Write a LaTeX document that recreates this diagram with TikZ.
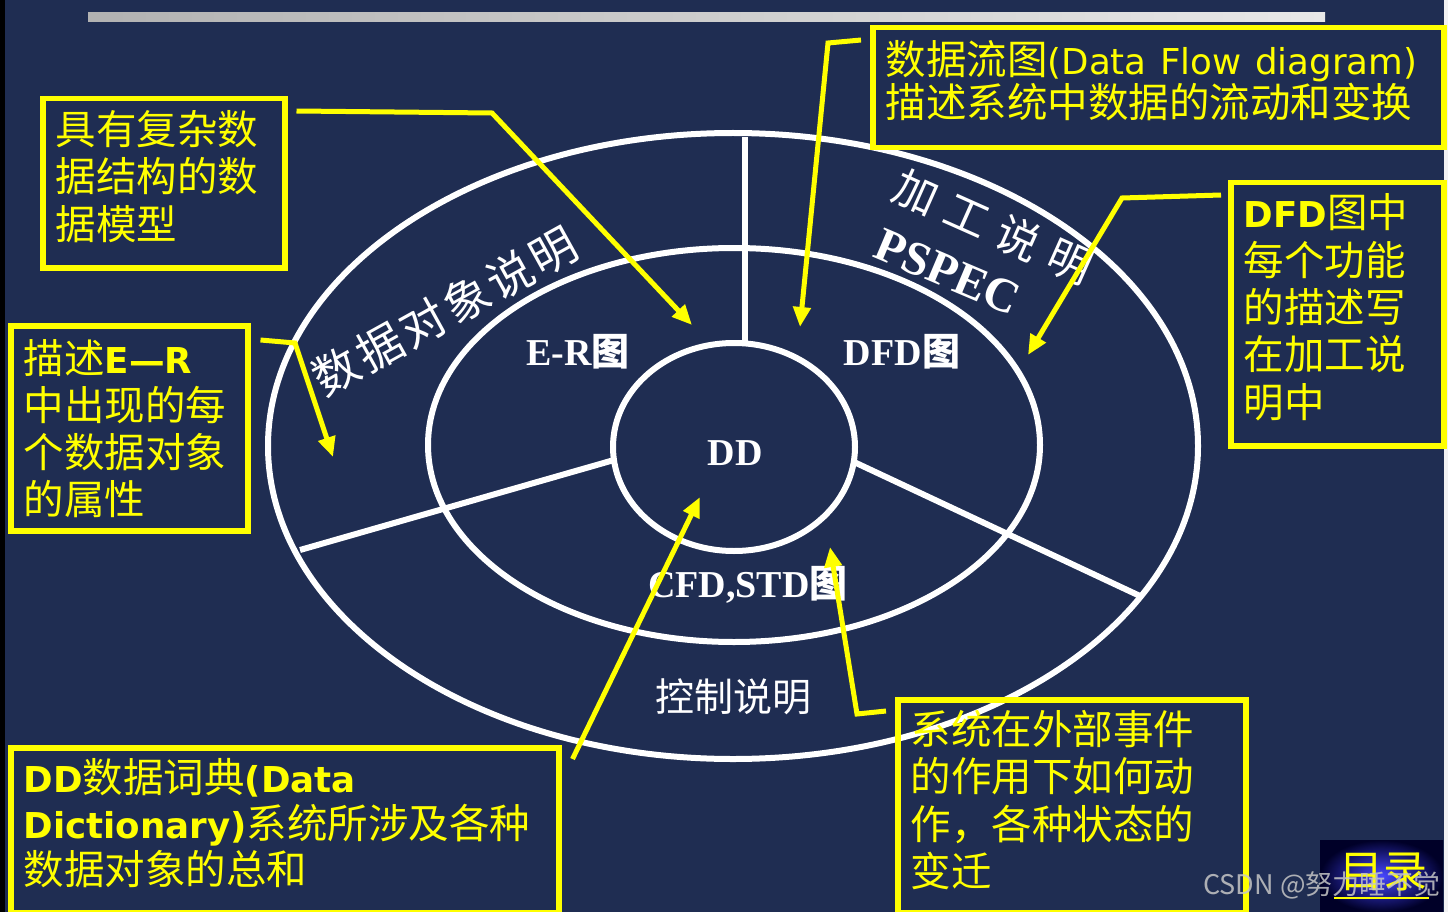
\documentclass[tikz,border=0pt]{standalone}
\usepackage{fontspec}
\setmainfont{Noto Sans CJK SC}
\newfontfamily\latf{DejaVu Sans}[Scale=0.88]
\newfontfamily\serf{Liberation Serif}
\newfontfamily\spreadA{Noto Sans CJK SC}[LetterSpace=8]
\newfontfamily\spreadB{Noto Sans CJK SC}[LetterSpace=28]
\usetikzlibrary{arrows.meta}
\definecolor{navy}{RGB}{31,45,82}
\definecolor{ylw}{RGB}{255,255,0}
\newcommand\liftgap[1]{\endgraf\vspace{#1}}

\begin{document}
\begin{tikzpicture}[x=1pt, y=-1pt, >={Triangle[length=20pt,width=17pt]},
  ring/.style={draw=white, line width=6pt},
  ybox/.style={draw=ylw, line width=5.5pt, text=ylw, anchor=north west, align=left,
    inner xsep=13pt, inner ysep=0pt, font=\fontsize{40.5}{47.5}\selectfont},
  lift/.style={execute at end node={\liftgap{#1}}},
  arr/.style={draw=ylw, line width=5pt, ->},
  lbl/.style={text=white, font=\fontsize{38}{40}\selectfont\bfseries}]
\useasboundingbox (0,0) rectangle (1448,912);
\fill[navy] (0,0) rectangle (1448,912);
\fill[black] (0,0) rectangle (5,912);
\fill[white!90!gray] (1444,0) rectangle (1448,912);
% top bar
\shade[left color={rgb,255:red,178;green,178;blue,178}, right color={rgb,255:red,232;green,232;blue,232}]
  (88,13) rectangle (1325,22);

% rings
\draw[ring] (733,446) ellipse [x radius=465, y radius=313];
\draw[ring] (734,445) ellipse [x radius=306, y radius=197];
\draw[ring] (734,447) ellipse [x radius=121, y radius=104];
\draw[ring] (745,137) -- (745,344);
\draw[ring] (300,550) -- (614,460);
\draw[ring] (854,462) -- (1140,596);

% ring labels
\node[lbl] (er) at (578,352) {{\serf E-R}图};
\node[lbl] (dfd) at (902,352) {{\serf DFD}图};
\node[lbl] (dd) at (735,453) {{\serf DD}};
\node[lbl] (cfd) at (748,585) {{\serf CFD,STD}图};
\node[text=white, font=\fontsize{39}{40}\selectfont] (ctrl) at (733,697) {控制说明};
\node[text=white, rotate=29, font=\fontsize{46}{48}\selectfont\spreadA] (objdesc) at (445,311) {数据对象说明};
\node[text=white, rotate=-24, font=\fontsize{44}{46}\selectfont\spreadB] (procdesc) at (993,227) {加工说明};
\node[text=white, rotate=-23, font=\fontsize{48}{50}\selectfont\serf\bfseries] (pspec) at (948,272) {PSPEC};

% note boxes
\node[ybox, lift=14pt, text width=216pt, minimum width=242pt, minimum height=169pt] (model) at (40,96)
  {具有复杂数\\据结构的数\\据模型};
\node[ybox, text width=211pt, minimum width=237pt, minimum height=205pt, font=\fontsize{40.5}{47}\selectfont] (ernote) at (8,323)
  {描述{\latf\bfseries E—R}\\中出现的每\\个数据对象\\的属性};
\node[ybox, lift=15pt, text width=545pt, minimum width=571pt, minimum height=120pt, font=\fontsize{40.5}{43}\selectfont] (dfdnote) at (870,25)
  {数据流图{\latf(Data Flow diagram)}\\描述系统中数据的流动和变换};
\node[ybox, lift=14pt, text width=187pt, minimum width=213pt, minimum height=263pt, font=\fontsize{40.5}{47.3}\selectfont] (pspecnote) at (1228,180)
  {{\latf\bfseries DFD}图中\\每个功能\\的描述写\\在加工说\\明中};
\node[ybox, lift=14pt, text width=522pt, minimum width=548pt, minimum height=165pt, font=\fontsize{40.5}{46}\selectfont] (ddnote) at (8,745)
  {{\latf\bfseries DD}数据词典{\latf\bfseries (Data}\\{\latf\bfseries Dictionary)}系统所涉及各种\\数据对象的总和};
\node[ybox, lift=12pt, text width=322pt, minimum width=348pt, minimum height=213pt] (cfdnote) at (895,697)
  {系统在外部事件\\的作用下如何动\\作，各种状态的\\变迁};

% pointers
\coordinate (bendA) at (492,113);
\coordinate (tipA) at (692,325);
\coordinate (bendB) at (295,343);
\coordinate (tipB) at (333,457);
\coordinate (bendC) at (828,43);
\coordinate (tipC) at (800,327);
\coordinate (bendD) at (1122,198);
\coordinate (tipD) at (1028,355);
\coordinate (tipE) at (700,497);
\coordinate (bendF) at (857,714);
\coordinate (tipF) at (830,547);
\draw[arr] ([xshift=9pt,yshift=-15pt]model.north east) -- (bendA) -- (tipA);
\draw[arr] ([xshift=10pt,yshift=-17pt]ernote.north east) -- (bendB) -- (tipB);
\draw[arr] ([xshift=-9pt,yshift=-15pt]dfdnote.north west) -- (bendC) -- (tipC);
\draw[arr] ([xshift=-7pt,yshift=-15pt]pspecnote.north west) -- (bendD) -- (tipD);
\draw[arr] ([xshift=11pt,yshift=-14pt]ddnote.north east) -- (tipE);
\draw[arr] ([xshift=-9pt,yshift=-14pt]cfdnote.north west) -- (bendF) -- (tipF);

% index button
\shade[inner color={rgb,255:red,70;green,70;blue,255}, outer color={rgb,255:red,0;green,0;blue,40}]
  (1320,840) rectangle (1443,912);
\node[text=ylw, font=\fontsize{44}{46}\selectfont] (index) at (1383,872) {目录};
\draw[ylw, line width=2.5pt] (1334,898) -- (1429,898);
\node[text=gray!45, opacity=0.85, font=\fontsize{27}{29}\selectfont] (mark) at (1322,885) {CSDN @努力睡不觉};
\end{tikzpicture}
\end{document}
